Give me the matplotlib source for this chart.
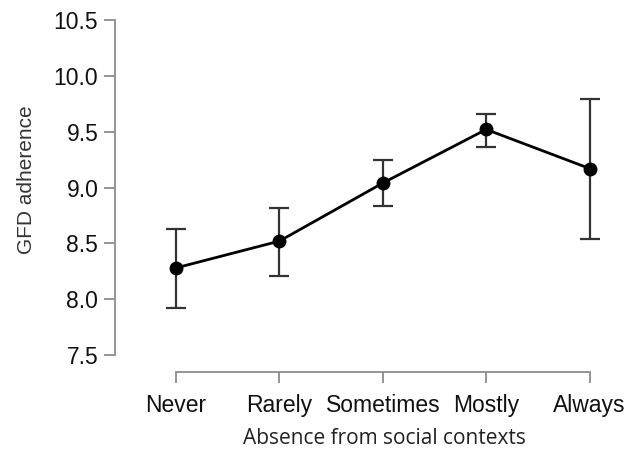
import numpy as np
import matplotlib.pyplot as plt

# Data
categories = ["Never", "Rarely", "Sometimes", "Mostly", "Always"]
means = [8.28, 8.52, 9.04, 9.52, 9.17]
upper = [8.63, 8.82, 9.25, 9.66, 9.79]
lower = [7.92, 8.21, 8.83, 9.36, 8.54]
yticks = [7.5, 8.0, 8.5, 9.0, 9.5, 10.0, 10.5]

W, H = 627, 459
fig = plt.figure(figsize=(W / 100, H / 100), dpi=100)
# axes placed in pixel coordinates
left, right, top, bottom = 115, 612, 14, 372
ax = fig.add_axes([left / W, 1 - bottom / H, (right - left) / W, (bottom - top) / H])

x = np.arange(len(categories))
m = np.array(means)
yerr = [m - np.array(lower), np.array(upper) - m]

ax.errorbar(x, m, yerr=yerr, fmt="none", ecolor="#333333", elinewidth=1.6,
            capsize=7.5, capthick=1.6, zorder=2)
ax.plot(x, m, color="black", lw=2, marker="o", markersize=9, zorder=3)

px_y = 111.67  # pixels per unit on y
px_x = 103.4   # pixels per category
ax.set_ylim(7.5 - (bottom - 355) / px_y, 10.5 + (20 - top) / px_y)
x0 = -(176 - left) / px_x
ax.set_xlim(x0, x0 + (right - left) / px_x)

ax.set_yticks(yticks)
ax.set_yticklabels([f"{v:.1f}" for v in yticks])
ax.set_xticks(x)
ax.set_xticklabels(categories)

for s in ["top", "right"]:
    ax.spines[s].set_visible(False)
ax.spines["left"].set_bounds(7.5, 10.5)
ax.spines["bottom"].set_bounds(0, 4)
for s in ["left", "bottom"]:
    ax.spines[s].set_color("#8c8c8c")
    ax.spines[s].set_linewidth(1.3)

ax.tick_params(axis="both", colors="#8c8c8c", length=8, width=1.3,
               labelsize=16.5, labelcolor="#111111")
ax.tick_params(axis="y", pad=4)
ax.tick_params(axis="x", pad=8)
for lab in ax.get_xticklabels() + ax.get_yticklabels():
    lab.set_family("Liberation Sans")

ax.set_ylabel("GFD adherence", fontsize=15, family="Liberation Sans",
              color="#333333")
ax.yaxis.set_label_coords((27 - left) / (right - left), (bottom - 180) / (bottom - top))
ax.set_xlabel("Absence from social contexts", fontsize=15, family="Open Sans",
              color="#222222")
ax.xaxis.set_label_coords((384 - left) / (right - left), -(438 - bottom) / (bottom - top))
ax.xaxis.label.set_va("center")
ax.yaxis.label.set_ha("center")
ax.yaxis.label.set_va("center")

fig.savefig("out.png", dpi=100, facecolor="white")
